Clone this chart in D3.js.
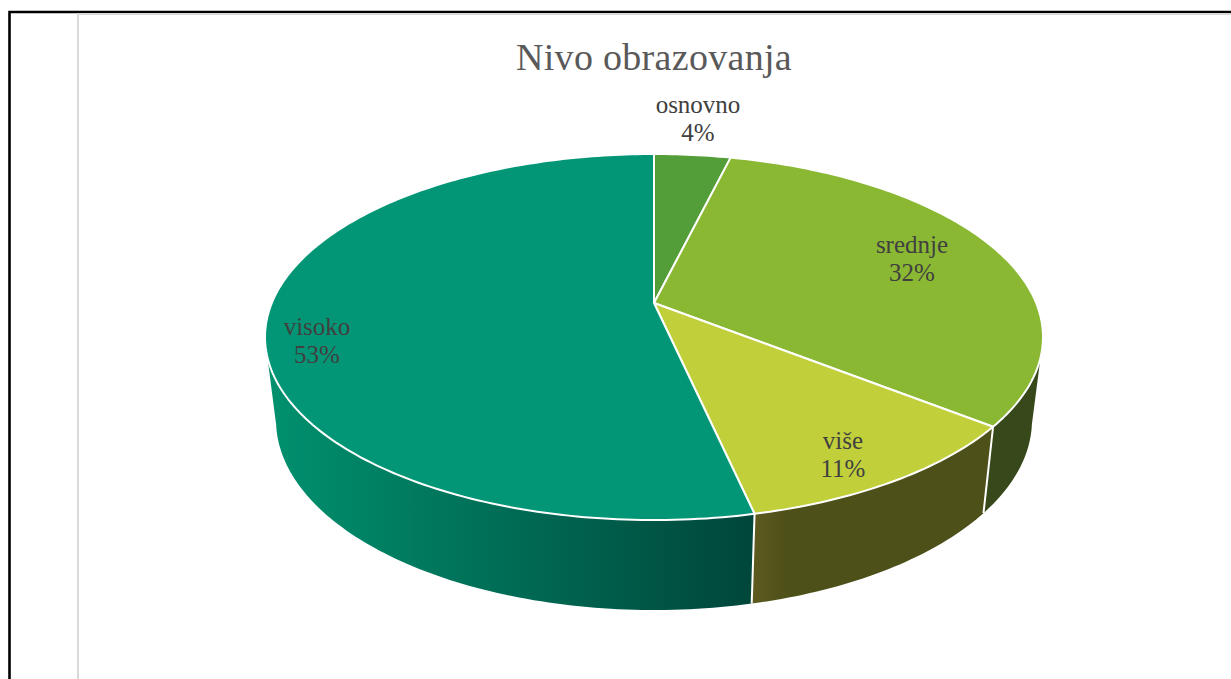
<!DOCTYPE html>
<html>
<head>
<meta charset="utf-8">
<script src="https://cdn.jsdelivr.net/npm/d3@7"></script>
<style>
  html, body { margin: 0; padding: 0; background: #fff; overflow: hidden; }
  text { font-family: "Liberation Serif", serif; text-anchor: middle; }
</style>
</head>
<body>
<div id="chart"></div>
<script>
// Chart data
const categories = ["osnovno", "srednje", "više", "visoko"];
const shares = [3.8, 31.8, 10.9, 53.4];
const percentLabels = ["4%", "32%", "11%", "53%"];
const topColors = ["#549e39", "#8ab833", "#c0cf3a", "#029676"];
const wallColors = [["#3a6e28", "#3a6e28"], ["#37491a", "#37491a"], ["#5e5a20", "#4d5018"], ["#00916f", "#00463a"]];

// Layout
const width = 1231, height = 679;
const labelPos = [[698, 106], [912, 246], [843, 442], [317, 328]];
const perspective = 0.186;
const topDisc = { cx: 654, cy: 303, a: 176.7, b: 382.2 };
const baseDisc = { cx: 654, cy: 384.7, a: 183.4, b: 371.4 };

// The silhouette of the wall meets the two rims at slightly different angles
const topLimit = [107, 253];
const baseLimit = [102, 258];

const svg = d3.select("#chart").append("svg")
  .attr("width", width)
  .attr("height", height)
  .style("display", "block");

// Frame behind the chart
svg.append("path").attr("d", "M1231,12H9.5V679").attr("fill", "none").attr("stroke", "#000").attr("stroke-width", 2.6);
svg.append("path").attr("d", "M1231,14H78V679").attr("fill", "none").attr("stroke", "#d9d9d9").attr("stroke-width", 2);

// Circle to tilted disc, the far side comes out smaller
function project(disc, deg) {
  const t = deg * Math.PI / 180;
  const w = 1 + perspective * Math.cos(t);
  return [disc.cx + disc.b * Math.sin(t) / w, disc.cy - disc.a * Math.cos(t) / w];
}

function arcPoints(disc, from, to) {
  const n = Math.max(2, Math.ceil(Math.abs(to - from)));
  return d3.range(n + 1).map(i => project(disc, from + (to - from) * i / n));
}

const slices = d3.pie().sort(null).value(d => d)(shares).map((s, i) => ({
  i,
  start: s.startAngle * 180 / Math.PI,
  end: s.endAngle * 180 / Math.PI
}));

const line = d3.line();
const defs = svg.append("defs");

// Draw walls
slices.forEach(s => {
  if (s.end <= topLimit[0] || s.start >= topLimit[1]) return;
  const top = arcPoints(topDisc, Math.max(s.start, topLimit[0]), Math.min(s.end, topLimit[1]));
  const base = arcPoints(baseDisc, Math.min(s.end, baseLimit[1]), Math.max(s.start, baseLimit[0]));
  const pts = top.concat(base);
  const xs = d3.extent(pts, p => p[0]);

  const grad = defs.append("linearGradient")
    .attr("id", "wall" + s.i)
    .attr("gradientUnits", "userSpaceOnUse")
    .attr("x1", xs[0]).attr("x2", xs[1]).attr("y1", 0).attr("y2", 0);
  grad.append("stop").attr("offset", 0).attr("stop-color", wallColors[s.i][0]);
  grad.append("stop").attr("offset", s.i === 2 ? 0.15 : 1).attr("stop-color", wallColors[s.i][1]);

  // only the inner seams get a white line, the outer edge stays clean
  svg.append("path")
    .attr("d", line(pts) + "Z")
    .attr("fill", "url(#wall" + s.i + ")");
  if (s.start >= topLimit[0]) {
    svg.append("path")
      .attr("d", line([project(topDisc, s.start), project(baseDisc, s.start)]))
      .attr("stroke", "#fff")
      .attr("stroke-width", 2);
  }
});

// Draw top of the pie
slices.forEach(s => {
  const pts = [[topDisc.cx, topDisc.cy]].concat(arcPoints(topDisc, s.start, s.end));
  svg.append("path")
    .attr("d", line(pts) + "Z")
    .attr("fill", topColors[s.i])
    .attr("stroke", "#fff")
    .attr("stroke-width", 2)
    .attr("stroke-linejoin", "round");
});

// Title
svg.append("text")
  .attr("x", 654)
  .attr("y", 70)
  .attr("fill", "#595959")
  .attr("font-size", 38)
  .attr("letter-spacing", 0.3)
  .text("Nivo obrazovanja");

// Data labels
categories.forEach((name, i) => {
  const label = svg.append("text").attr("fill", "#404040").attr("font-size", 25);
  label.append("tspan").attr("x", labelPos[i][0]).attr("y", labelPos[i][1] + 7).text(name);
  label.append("tspan").attr("x", labelPos[i][0]).attr("y", labelPos[i][1] + 35).text(percentLabels[i]);
});
</script>
</body>
</html>
